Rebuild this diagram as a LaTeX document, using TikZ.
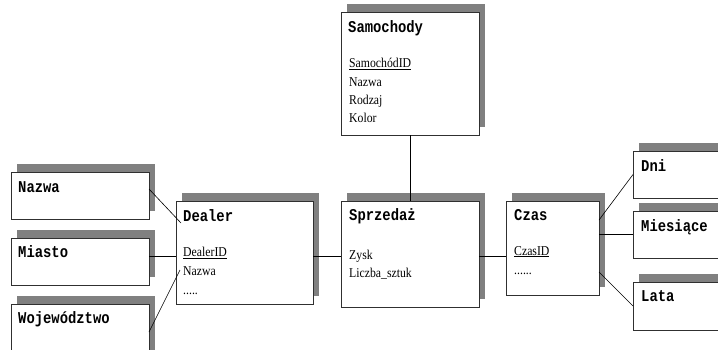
\documentclass[tikz,border=0pt]{standalone}
\usepackage{fontspec}
\setmainfont{Liberation Serif}[FakeStretch=0.87]
\newfontfamily\titlefont{Liberation Mono}[FakeStretch=0.84]
\usetikzlibrary{shadows}
\definecolor{shadowgray}{HTML}{808080}
\definecolor{edgegray}{HTML}{303030}
\begin{document}
\begin{tikzpicture}[x=1pt,y=-1pt,
  box/.style={rectangle, draw=edgegray, line width=0.8pt, fill=white, outer sep=0pt, inner sep=0pt, anchor=north west,
    drop shadow={shadow xshift=6pt, shadow yshift=8pt, fill=shadowgray, opacity=1}},
  title/.style={anchor=base west, inner sep=0pt, font=\titlefont\bfseries\fontsize{16.5}{18}\selectfont},
  field/.style={anchor=base west, inner sep=0pt, font=\fontsize{13.5}{16}\selectfont},
  conn/.style={draw=black, line width=0.6pt}]
\useasboundingbox (0,0) rectangle (718,349);
\clip (0,0) rectangle (718,349);
% boxes
\node[box, minimum width=138pt, minimum height=123pt] (samochody) at (341,12) {};
\node[box, minimum width=138pt, minimum height=106pt] (sprzedaz) at (341,201) {};
\node[box, minimum width=137pt, minimum height=103pt] (dealer) at (176,201) {};
\node[box, minimum width=93pt, minimum height=94pt] (czas) at (506,201) {};
\node[box, minimum width=138pt, minimum height=47pt] (nazwa) at (11,172) {};
\node[box, minimum width=138pt, minimum height=47pt] (miasto) at (11,238) {};
\node[box, minimum width=138pt, minimum height=56pt] (woj) at (11,304) {};
\node[box, minimum width=100pt, minimum height=47pt] (dni) at (633,151) {};
\node[box, minimum width=100pt, minimum height=47pt] (mies) at (633,211) {};
\node[box, minimum width=100pt, minimum height=48pt] (lata) at (633,282) {};
% texts
\node[title] (samt) at (348,32.7) {Samochody};
\node[field] (samid) at (349,67.5) {\underline{SamochódID}};
\node[field] (samnazwa) at (349,86) {Nazwa};
\node[field] (samrodzaj) at (349,104.3) {Rodzaj};
\node[field] (samkolor) at (349,122.6) {Kolor};
\node[title] (sprzt) at (349,220.7) {Sprzedaż};
\node[field] (zysk) at (349,259.5) {Zysk};
\node[field] (liczba) at (349,277.7) {Liczba\_sztuk};
\node[title] (dealert) at (183,221) {Dealer};
\node[field] (did) at (183,256.7) {\underline{DealerID}};
\node[field] (dnazwa) at (183,275) {Nazwa};
\node[field] (ddots) at (183,294) {.....};
\node[title] (czast) at (514,220.7) {Czas};
\node[field] (czasid) at (514,255) {\underline{CzasID}};
\node[field] (cdots) at (514,274) {......};
\node[title] (nazwat) at (18,192) {Nazwa};
\node[title] (miastot) at (18,257.7) {Miasto};
\node[title] (wojt) at (18,323) {Województwo};
\node[title] (dnit) at (641,171.7) {Dni};
\node[title] (miest) at (641,231.7) {Miesiące};
\node[title] (latat) at (641,301.7) {Lata};
% connectors
\draw[conn] (samochody.south) -- (sprzedaz.north);
\draw[conn] ([yshift=6.5pt]nazwa.east) -- ([xshift=-2pt,yshift=-2pt]dealert.base west);
\draw[conn] (miasto.east |- did.base) -- (dealer.west |- did.base);
\draw[conn] (woj.east) -- ([xshift=-3pt,yshift=5pt]dnazwa.base west);
\draw[conn] (dealer.east |- did.base) -- (sprzedaz.west |- did.base);
\draw[conn] (sprzedaz.east |- did.base) -- (czas.west |- did.base);
\draw[conn] ([yshift=28pt]czas.east) -- (dni.west);
\draw[conn] (czas.east |- mies.west) -- (mies.west);
\draw[conn] ([yshift=-24pt]czas.east) -- (lata.west);
\end{tikzpicture}
\end{document}
